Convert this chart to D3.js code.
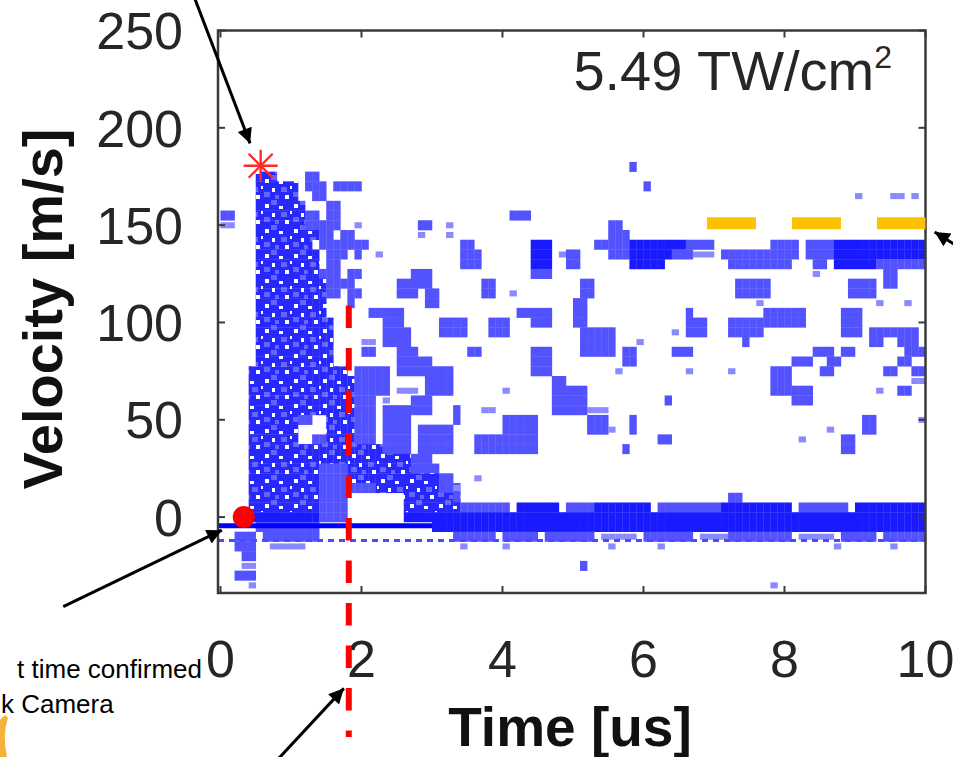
<!DOCTYPE html>
<html><head><meta charset="utf-8">
<script src="https://cdn.jsdelivr.net/npm/d3@7"></script>
<style>body{margin:0;background:#fff;overflow:hidden}svg{display:block}</style>
</head><body>
<svg id="chart" width="953" height="757"></svg>
<script>
// ---------------- data ----------------
const xTicks = [0, 2, 4, 6, 8, 10];
const yTicks = [0, 50, 100, 150, 200, 250];
const xDomain = [-0.035, 10];
const yDomain = [-39, 250];
const timeBinWidth = 0.1;   // us per column
const velBinHalf = 2.5;     // m/s half height of a row

// velocity row centres (m/s) and the filled time-bin runs in each row
// run syntax: firstCol-lastCol + level  (# dense, + medium, - faint)
const velocityBins = [180,175,170,165,160,155,150,145,140,135,130,125,120,115,110,105,100,95,90,85,80,75,70,65,60,55,50,45,40,35,30,25,20,15,10,5,0,-5,-10,-15,-20,-25,-30,-35];
const cellRuns = [
  "58+",
  "5-7#,12-13+",
  "5-10#,12-14+,16-17+,18-19+,60+",
  "5-10#,13-14+,90-,95-96-,98-",
  "5-11#,15-16+",
  "0-1+,5-11#,12-13+,15-16+,41-43+",
  "0-1-,5-11#,12-14+,15-16+,19-,28-29+,32-,55-56+",
  "5-13#,14-15+,17-18+,28-,32-,55-57+",
  "5-12#,14-17+,18-20+,34-35+,44-46#,53-54+,55-57+,58-65#,66-69+,78-81+,83-86+,87-99#",
  "5-13#,15-17+,19+,22-,34-36+,44-46#,48-,49-50+,55+,56-57+,58-63#,64-66+,67-69-,71-77+,78-81+,83-86+,87-99#",
  "5-13#,15-16+,34-36+,44-46#,49-50+,58-62#,72-77+,78-80+,84-85+,87-92#,93-99+",
  "5-13#,14-16+,18-19+,27-29+,44-46+,84-,94-95+",
  "5-14#,15-18+,25-27+,28-29+,37-38+,51-52+,73-77+,89-92+,94-95+",
  "5-14#,15-16+,18-19+,25-27+,29-30+,37-38+,41-,51-52+,73-77+,89-92+",
  "5-14#,18+,29-30+,50-51+,76-,93-,97-",
  "5-14#,21-25+,42-43+,44-46+,50-51+,66+,77-82+,88-90+",
  "5-15#,23-25+,31-34+,38-40+,44-46+,50-51+,66-68+,72-76+,77-82+,88-90+",
  "5-15#,23-26+,31-34+,38-40+,51-55+,64-,66-68+,72-76+,88-90+,92-98+",
  "5-15#,20-21-,23-26+,51-55+,59-,74+,92-93+,96-98+",
  "5-15#,20-21+,25-27+,35-36+,44-46+,51-55+,57-58+,64-66+,84-86+,88-89+,97-99+",
  "5-15#,25-27+,28-29+,44-46+,57-58+,81-83+,86-87+,96-97+",
  "4-17#,19-23+,25-27+,28-32+,44-46+,56-,66-,72-,78-80+,85-86+,94-95+,98-99+",
  "4-18#,19-23+,29-32+,47-48+,78-80+,98-99-",
  "4-18#,19-23+,25-27-,29-32+,40-,47-51+,78-80+,81-83+,93-,96-97+",
  "4-18#,19-21+,23-,27-29+,47-51+,63+,81-83+",
  "4-18#,19-21+,23-26+,27-29+,33+,37-38-,47-51+,52-54-",
  "4-10#,11-12+,15-18#,19-21+,23-26+,33+,40-44+,52-54+,58+,91-92+,99-",
  "4-10#,15-18#,19-21+,23-26+,28-32+,40-44+,52-54+,55-,58+,86-,91-92+",
  "4-10#,13-14+,15-18#,19-21+,23-26+,28-32+,36-39+,40-44+,62-63+,82-,88-89+",
  "4-22#,23-26+,28-32+,36-39+,40-44+,57+,88-89+",
  "4-26#,27-29+",
  "4-13#,14-17+,18-26#,27-30+",
  "4-13#,14-17+,18-30#,31-32+,36-",
  "4-13#,14-17+,18-21+,22-30#,31-33+,33-",
  "4-13#,14-17+,26-33#,33+,72-73+",
  "4-13#,14-17+,26-33#,34-40+,42-47#,49-52+,53-60#,62-70+,71-80#,82-88+,90-99#",
  "4-13#,14-17+,26-99#",
  "5-13+,30-99#",
  "2-4+,6-13+,33-38+,40-44+,46-52+,54-58-,60-66+,68-71-,72-80+,82-86-,88-92+,94-99+",
  "2-4+,7-11-,34-,40-,55-,62-,87-,95-",
  "3-4+",
  "3-4-,51+",
  "2-4+",
  "4-,78-"
];

// line features (time us, velocity m/s)
const baseLine = [[-0.035, -4.5], [3.0, -4.5]];
const noiseFloor = [[-0.035, -12], [10, -12]];
const plateauLine = [[6.9, 151], [10, 151]];
const markerTimeLine = [[1.82, 108.7], [1.82, -113]];
const peakPoint = [0.57, 180.5];
const impactPoint = [0.33, 0];

// annotation arrows: [start, tip] in (time, velocity)
const arrows = [
  [[-0.36, 266], [0.42, 192]],
  [[-2.23, -46], [0.02, -6.7]],
  [[10.55, 137], [10.13, 146.5]],
  [[0.80, -125], [1.75, -88]]
];
const noteLines = ["t time confirmed", "k Camera"];

// ---------------- drawing ----------------
const svg = d3.select("#chart");
const L = 218, R = 925.5, T = 30.5, B = 593;
const x = d3.scaleLinear().domain(xDomain).range([L, R]);
const y = d3.scaleLinear().domain(yDomain).range([B, T]);
const font = "'Liberation Sans', Arial, Helvetica, sans-serif";
const txt = "#262626";

const defs = svg.append("defs");
defs.append("clipPath").attr("id", "plotclip")
  .append("rect").attr("x", L).attr("y", T).attr("width", R - L).attr("height", B - T);

// speckled texture for the dense early-time region
const pat = defs.append("pattern").attr("id", "speck").attr("patternUnits", "userSpaceOnUse")
  .attr("width", 29).attr("height", 25);
pat.append("rect").attr("width", 29).attr("height", 25).attr("fill", "#2727ff");
[[10, 0, 6, 5], [20, 12, 6, 5], [3, 17, 6, 5], [14, 20, 4, 4]].forEach(r =>
  pat.append("rect").attr("x", r[0]).attr("y", r[1]).attr("width", r[2]).attr("height", r[3]).attr("fill", "#6464ff"));
[[4, 4, 4, 4], [18, 6, 4, 3], [11, 13, 3, 4], [24, 20, 4, 4], [0, 11, 2, 3]].forEach(r =>
  pat.append("rect").attr("x", r[0]).attr("y", r[1]).attr("width", r[2]).attr("height", r[3]).attr("fill", "#ffffff"));

// cells
const cells = [];
velocityBins.forEach((v, i) => {
  cellRuns[i].split(",").filter(s => s).forEach(s => {
    const m = s.match(/^(\d+)(?:-(\d+))?([#+\-])$/);
    const a = +m[1], b = m[2] !== undefined ? +m[2] : a;
    for (let c = a; c <= b; c++) cells.push({ t0: c * timeBinWidth, t1: (c + 1) * timeBinWidth, v, level: m[3] });
  });
});
const fillOf = d => d.level === "#" ? ((d.v > 2.5 && d.t0 < 3.5) ? "url(#speck)" : "#1a1aff")
  : d.level === "+" ? "#5252ff" : "#8a8aff";
const vInset = { "#": 0, "+": 0, "-": 2 };

const plot = svg.append("g").attr("clip-path", "url(#plotclip)");
plot.selectAll("rect.cell").data(cells).enter().append("rect")
  .attr("class", "cell")
  .attr("x", d => x(d.t0))
  .attr("y", d => y(d.v + velBinHalf) + vInset[d.level])
  .attr("width", d => x(d.t1) - x(d.t0) + 0.3)
  .attr("height", d => y(d.v - velBinHalf) - y(d.v + velBinHalf) - 2 * vInset[d.level] + 0.3)
  .attr("fill", fillOf);

const line = d3.line().x(d => x(d[0])).y(d => y(d[1]));
plot.append("path").attr("d", line(noiseFloor)).attr("stroke", "#4a4aff")
  .attr("stroke-width", 3).attr("stroke-dasharray", "6 5").attr("fill", "none");
plot.append("path").attr("d", line(baseLine)).attr("stroke", "#0000ff")
  .attr("stroke-width", 5).attr("fill", "none");

// frame and ticks
const frame = svg.append("g");
frame.append("rect").attr("x", L).attr("y", T).attr("width", R - L).attr("height", B - T)
  .attr("fill", "none").attr("stroke", "#3a3a3a").attr("stroke-width", 2.5);
const tickLen = 7;
xTicks.forEach(t => {
  frame.append("line").attr("x1", x(t)).attr("x2", x(t)).attr("y1", B).attr("y2", B - tickLen).attr("stroke", "#3a3a3a").attr("stroke-width", 2);
  frame.append("line").attr("x1", x(t)).attr("x2", x(t)).attr("y1", T).attr("y2", T + tickLen).attr("stroke", "#3a3a3a").attr("stroke-width", 2);
});
yTicks.forEach(v => {
  frame.append("line").attr("x1", L).attr("x2", L + tickLen).attr("y1", y(v)).attr("y2", y(v)).attr("stroke", "#3a3a3a").attr("stroke-width", 2);
  frame.append("line").attr("x1", R).attr("x2", R - tickLen).attr("y1", y(v)).attr("y2", y(v)).attr("stroke", "#3a3a3a").attr("stroke-width", 2);
});

// tick labels
svg.selectAll("text.xt").data(xTicks).enter().append("text").attr("class", "xt")
  .attr("x", d => x(d)).attr("y", 677).attr("text-anchor", "middle")
  .attr("font-family", font).attr("font-size", 52).attr("fill", txt).text(d => d);
svg.selectAll("text.yt").data(yTicks).enter().append("text").attr("class", "yt")
  .attr("x", 183).attr("y", d => y(d)).attr("dy", "0.36em").attr("text-anchor", "end")
  .attr("font-family", font).attr("font-size", 52).attr("fill", txt).text(d => d);

// axis titles
svg.append("text").attr("x", 570).attr("y", 746).attr("text-anchor", "middle")
  .attr("font-family", font).attr("font-size", 55).attr("font-weight", "bold").attr("fill", "#111")
  .text("Time [us]");
svg.append("text").attr("transform", "translate(62,309) rotate(-90)").attr("text-anchor", "middle")
  .attr("font-family", font).attr("font-size", 56).attr("font-weight", "bold").attr("fill", "#111")
  .text("Velocity [m/s]");

// intensity label
const lab = svg.append("text").attr("x", 892).attr("y", 90).attr("text-anchor", "end")
  .attr("font-family", font).attr("font-size", 56).attr("fill", txt);
lab.append("tspan").text("5.49 TW/cm");
lab.append("tspan").attr("font-size", 32).attr("dy", -22).text("2");

// plateau (orange dashed)
svg.append("path").attr("d", line(plateauLine)).attr("stroke", "#ffc000")
  .attr("stroke-width", 12).attr("stroke-dasharray", "49 36").attr("fill", "none");

// red vertical dashed marker
svg.append("path").attr("d", line(markerTimeLine)).attr("stroke", "#ff0000")
  .attr("stroke-width", 6).attr("stroke-dasharray", "22.5 20").attr("fill", "none");

// peak star
const px = x(peakPoint[0]), py = y(peakPoint[1]);
const star = svg.append("g").attr("stroke", "#ff2a2a").attr("stroke-width", 2.4);
[[-17, 0, 17, 0], [0, -16, 0, 16], [-12, -12, 12, 12], [-12, 12, 12, -12]].forEach(s =>
  star.append("line").attr("x1", px + s[0]).attr("y1", py + s[1]).attr("x2", px + s[2]).attr("y2", py + s[3]));

// impact point
svg.append("circle").attr("cx", x(impactPoint[0])).attr("cy", y(impactPoint[1])).attr("r", 11).attr("fill", "#ff0000");

// arrows
defs.append("marker").attr("id", "ah").attr("viewBox", "0 0 10 10")
  .attr("refX", 10).attr("refY", 5).attr("markerWidth", 6).attr("markerHeight", 5)
  .attr("markerUnits", "strokeWidth").attr("orient", "auto")
  .append("path").attr("d", "M0,0 L10,5 L0,10 Z").attr("fill", "#000");
arrows.forEach(a => {
  svg.append("line").attr("x1", x(a[0][0])).attr("y1", y(a[0][1]))
    .attr("x2", x(a[1][0])).attr("y2", y(a[1][1]))
    .attr("stroke", "#000").attr("stroke-width", 3).attr("marker-end", "url(#ah)");
});

// annotation text
svg.append("text").attr("x", 202).attr("y", 678).attr("text-anchor", "end")
  .attr("font-family", font).attr("font-size", 26).attr("fill", "#000").text(noteLines[0]);
svg.append("text").attr("x", 1).attr("y", 713)
  .attr("font-family", font).attr("font-size", 26).attr("fill", "#000").text(noteLines[1]);
svg.append("path").attr("d", "M0,720 Q6,712 8,718 Q2,735 7,757 L0,757 Z").attr("fill", "#f6b13a");
</script>
</body></html>
